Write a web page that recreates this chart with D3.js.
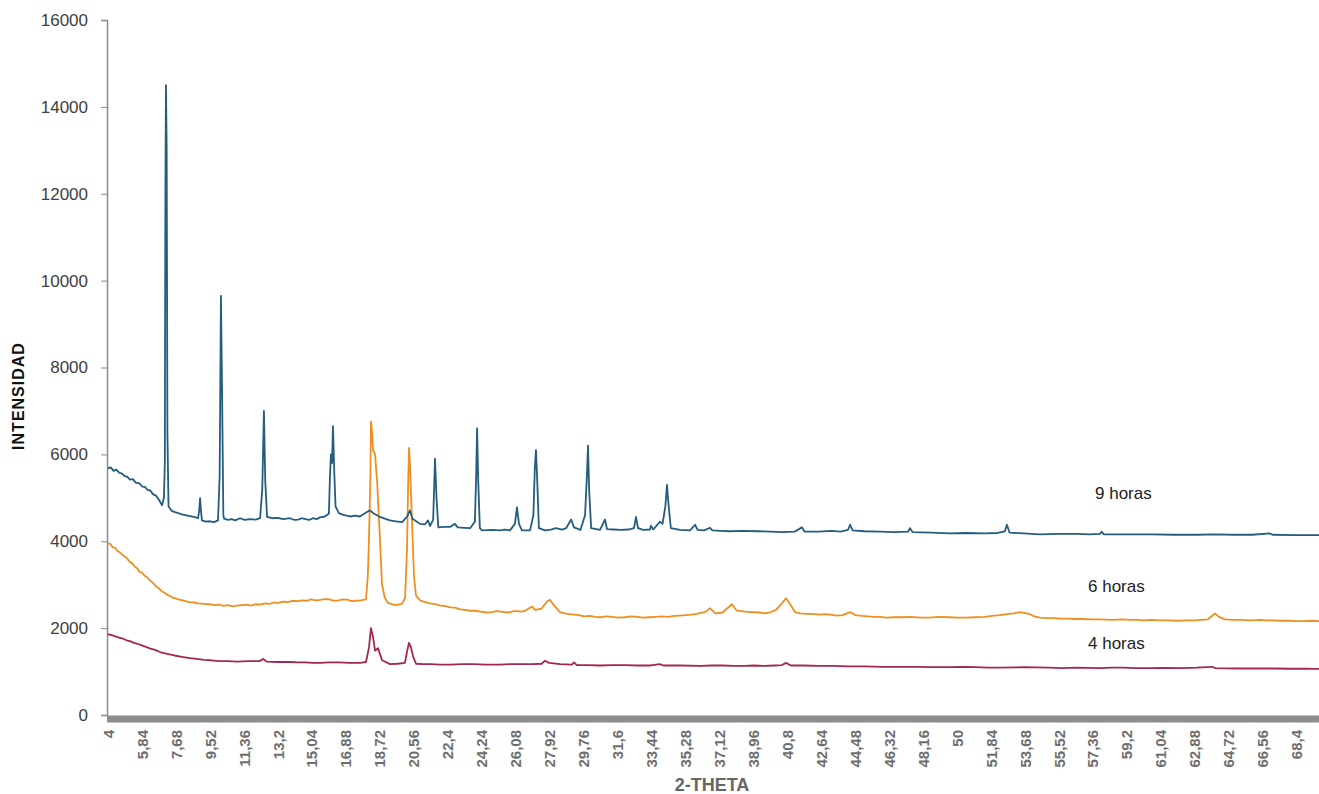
<!DOCTYPE html>
<html>
<head>
<meta charset="utf-8">
<script src="https://cdn.jsdelivr.net/npm/d3@7"></script>
<style>
  html, body { margin: 0; padding: 0; background: #fff; }
  svg { display: block; font-family: "Liberation Sans", Arial, sans-serif; }
</style>
</head>
<body>
<div id="chart"></div>
<script>
// 2-theta tick labels on the category axis
const xTickLabels = ["4","5,84","7,68","9,52","11,36","13,2","15,04","16,88","18,72","20,56",
  "22,4","24,24","26,08","27,92","29,76","31,6","33,44","35,28","37,12","38,96","40,8","42,64",
  "44,48","46,32","48,16","50","51,84","53,68","55,52","57,36","59,2","61,04","62,88","64,72",
  "66,56","68,4"];
const yTicks = [0, 2000, 4000, 6000, 8000, 10000, 12000, 14000, 16000];

// series: [2-theta, intensidad]
const horas9 = [[4.00,5680],[4.15,5700],[4.3,5620],[4.45,5650],[4.6,5580],[4.75,5560],[4.9,5500],[5.05,5480],[5.19,5420],[5.35,5430],[5.5,5350],
  [5.7,5330],[5.85,5260],[6.0,5250],[6.15,5180],[6.28,5170],[6.45,5080],[6.6,5050],[6.75,4960],[6.93,4830],
  [7.03,5000],[7.08,5800],[7.11,12000],[7.14,14500],[7.18,13000],[7.22,6500],[7.28,4800],[7.45,4700],[7.63,4670],[7.8,4650],[8.0,4620],[8.2,4600],[8.44,4580],[8.65,4560],[8.88,4530],
  [8.94,4700],[8.99,4990],[9.04,4700],[9.09,4480],[9.3,4450],[9.53,4460],[9.75,4440],[9.96,4480],[10.05,5500],[10.12,9650],[10.18,7500],[10.25,4600],[10.29,4520],
  [10.5,4490],[10.7,4510],[10.9,4480],[11.15,4530],[11.4,4490],[11.7,4510],[12.0,4500],[12.24,4530],[12.36,5200],[12.45,7000],[12.52,5400],[12.62,4560],[12.9,4530],[13.2,4540],[13.5,4510],[13.86,4530],[14.1,4490],[14.3,4500],[14.5,4530],[14.7,4510],
  [14.9,4490],[15.1,4530],[15.3,4510],[15.49,4550],[15.75,4570],[15.97,4640],[16.02,5400],[16.08,6000],[16.14,5800],[16.19,6650],[16.26,5600],[16.33,4800],[16.52,4640],[16.8,4600],[17.11,4570],
  [17.4,4590],[17.65,4570],[18.05,4680],[18.2,4710],[18.4,4640],[18.74,4560],[19.0,4520],[19.28,4480],[19.6,4460],[19.93,4440],[20.2,4560],[20.36,4710],
  [20.5,4520],[20.91,4400],[21.18,4390],[21.34,4480],[21.45,4350],[21.62,4500],[21.72,5900],[21.8,5000],[21.9,4320],[22.2,4330],[22.53,4330],[22.8,4400],
  [22.95,4320],[23.3,4310],[23.62,4300],[23.88,4450],[23.95,5500],[24.0,6600],[24.06,5400],[24.15,4300],[24.27,4250],[24.8,4260],[25.24,4250],[25.5,4270],[25.78,4250],
  [26.05,4400],[26.16,4780],[26.27,4400],[26.43,4250],[26.87,4250],[27.05,4600],[27.13,5700],[27.19,6100],[27.25,5500],[27.35,4300],[27.68,4250],[28.0,4270],
  [28.28,4300],[28.6,4270],[28.82,4300],[29.1,4500],[29.25,4320],[29.6,4260],[29.85,4600],[29.95,5500],[30.01,6200],[30.07,5200],[30.18,4300],[30.66,4260],
  [30.93,4500],[31.04,4280],[31.4,4270],[31.8,4260],[32.2,4270],[32.5,4300],[32.61,4560],[32.72,4300],[33.0,4260],[33.37,4270],[33.42,4360],[33.55,4270],
  [33.91,4450],[34.05,4400],[34.2,4800],[34.29,5300],[34.36,4900],[34.5,4300],[35.0,4260],[35.54,4250],[35.81,4380],[35.95,4260],[36.3,4250],[36.62,4310],
  [36.75,4250],[37.2,4240],[37.7,4230],[38.4,4240],[39.2,4230],[39.9,4220],[40.52,4210],[41.2,4220],[41.6,4320],[41.75,4220],[42.5,4220],[43.2,4240],
  [43.7,4220],[44.1,4260],[44.21,4380],[44.35,4250],[45.0,4230],[45.8,4220],[46.6,4210],[47.35,4220],[47.46,4300],[47.6,4210],[48.6,4200],[49.6,4180],
  [50.5,4190],[51.5,4180],[52.2,4190],[52.6,4230],[52.71,4380],[52.85,4200],[53.6,4180],[54.5,4160],[55.5,4170],[56.5,4170],[57.2,4160],[57.75,4170],
  [57.85,4220],[57.95,4160],[59.0,4160],[60.5,4160],[61.8,4150],[63.0,4150],[64.0,4160],[65.0,4150],[66.0,4150],[66.96,4180],[67.1,4150],[68.3,4140],
  [69.62,4140],[70,4140]];

const horas6 = [[4.00,3950],[4.12,3940],[4.25,3860],[4.38,3850],[4.5,3780],[4.65,3740],[4.85,3660],[5.0,3620],[5.19,3520],[5.32,3490],[5.45,3420],
  [5.58,3380],[5.7,3300],[5.85,3270],[6.0,3200],[6.15,3160],[6.28,3100],[6.45,3040],[6.6,2960],[6.75,2920],[6.9,2850],[7.05,2820],[7.2,2770],
  [7.35,2740],[7.5,2700],[7.7,2680],[7.9,2650],[8.15,2630],[8.4,2600],[8.65,2590],[8.9,2570],[9.2,2560],[9.5,2550],[9.75,2530],[10.0,2540],[10.25,2510],[10.5,2530],[10.75,2500],[11.0,2520],[11.25,2530],[11.5,2540],[11.75,2520],[12.0,2550],[12.25,2540],[12.5,2570],[12.75,2560],[13.0,2590],[13.25,2580],[13.5,2610],
  [13.75,2600],[14.0,2630],[14.25,2620],[14.5,2640],[14.75,2630],[15.0,2660],[15.25,2640],[15.5,2650],[15.75,2670],[16.0,2660],[16.25,2630],[16.5,2640],[16.75,2660],[17.0,2650],[17.2,2620],[17.4,2630],[17.7,2640],[17.98,2660],[18.08,3200],[18.14,4020],[18.22,5500],
  [18.25,6760],[18.31,6500],[18.36,6100],[18.42,6050],[18.47,6000],[18.58,5400],[18.74,4020],[18.85,3000],[19.0,2700],[19.17,2580],[19.55,2530],
  [19.93,2560],[20.1,2700],[20.2,3800],[20.26,5200],[20.31,6150],[20.36,5800],[20.47,4500],[20.58,3200],[20.69,2750],[20.91,2640],[21.2,2600],[21.45,2570],
  [21.75,2550],[22.0,2520],[22.25,2510],[22.53,2480],[22.8,2470],[23.1,2430],[23.35,2420],[23.62,2400],[23.9,2400],[24.2,2380],[24.5,2360],[24.8,2370],[25.05,2390],[25.3,2380],[25.55,2360],[25.8,2370],[26.0,2390],[26.2,2390],[26.4,2380],[26.6,2400],[26.97,2500],[27.15,2420],
  [27.5,2450],[27.8,2620],[27.95,2650],[28.1,2560],[28.49,2370],[28.75,2340],[29.0,2320],[29.25,2310],[29.5,2300],[29.8,2270],[30.1,2280],[30.4,2260],[30.66,2250],[31.0,2270],[31.3,2260],[31.65,2240],[32.0,2250],[32.35,2270],[32.7,2260],[33.0,2240],
  [33.37,2250],[33.7,2260],[34.0,2270],[34.35,2260],[34.7,2280],[35.0,2290],[35.3,2300],[35.6,2310],[35.9,2330],[36.15,2350],[36.4,2380],[36.62,2460],[36.9,2340],[37.3,2360],[37.81,2550],[38.05,2410],[38.3,2390],[38.52,2380],
  [38.9,2370],[39.3,2360],[39.6,2340],[39.87,2360],[40.2,2420],[40.5,2560],[40.74,2690],[40.95,2560],[41.23,2370],[41.5,2340],[41.83,2330],[42.0,2330],[42.3,2320],[42.6,2310],[42.85,2320],[43.12,2310],[43.5,2290],[43.8,2300],
  [44.21,2370],[44.5,2300],[44.85,2280],[45.2,2270],[45.5,2260],[45.83,2260],[46.2,2240],[46.6,2250],[47.0,2250],[47.5,2260],[48.0,2240],[48.5,2240],[49.0,2260],[49.62,2250],[50.0,2240],[50.5,2240],[51.0,2250],[51.5,2260],[51.9,2280],[52.33,2300],[52.8,2330],
  [53.1,2340],[53.42,2370],[53.9,2330],[54.2,2270],[54.5,2240],[54.9,2230],[55.2,2230],[55.6,2220],[56.0,2220],[56.4,2210],[56.8,2210],[57.3,2200],[57.75,2200],[58.4,2190],[59.0,2200],[59.4,2190],[59.8,2190],[60.1,2180],[60.46,2190],[61.0,2180],[61.5,2180],[62.0,2170],[62.5,2180],
  [62.9,2180],[63.2,2190],[63.6,2200],[63.82,2280],[63.98,2340],[64.2,2260],[64.53,2200],[65.0,2190],[65.4,2190],[65.9,2180],[66.42,2190],[66.8,2180],[67.2,2180],[67.6,2170],[68.0,2170],[68.4,2160],[68.8,2160],[69.2,2170],[69.62,2160],
  [70,2160]];

const horas4 = [[4.00,1860],[4.2,1840],[4.4,1810],[4.6,1780],[4.8,1760],[5.0,1720],[5.19,1700],[5.4,1660],[5.6,1640],[5.8,1610],[6.05,1570],[6.3,1530],[6.55,1500],[6.82,1450],[7.2,1410],[7.6,1370],[8.0,1340],[8.44,1310],[8.8,1290],[9.2,1270],[9.6,1260],[10.0,1240],[10.5,1240],[11.0,1230],[11.6,1240],
  [12.2,1240],[12.4,1290],[12.6,1230],[13.2,1220],[13.9,1220],[14.3,1210],[14.7,1210],[15.1,1200],[15.5,1200],[16.0,1210],[16.5,1210],[17.1,1200],[17.65,1200],[17.98,1220],[18.14,1550],[18.25,2000],
  [18.36,1800],[18.47,1480],[18.58,1520],[18.63,1540],[18.74,1400],[18.85,1260],[19.28,1170],[19.7,1180],[20.09,1200],[20.2,1450],[20.31,1660],
  [20.42,1550],[20.53,1350],[20.69,1180],[21.1,1170],[21.5,1170],[22.0,1160],[22.53,1160],[23.2,1170],[23.8,1170],[24.5,1160],[25.24,1160],[25.8,1170],[26.4,1170],[27.0,1170],[27.5,1180],[27.68,1250],[27.9,1200],[28.5,1170],
  [29.14,1160],[29.25,1210],[29.4,1150],[30.0,1150],[30.66,1140],[31.3,1150],[32.0,1150],[32.7,1140],[33.4,1140],[33.9,1170],[34.1,1140],[35.0,1140],[36.1,1130],[36.7,1140],[37.3,1140],[37.9,1130],[38.5,1130],[39.0,1140],[39.6,1130],
  [40.1,1140],[40.52,1150],[40.74,1200],[41.0,1140],[41.7,1140],[42.5,1130],[43.3,1130],[44.1,1120],[45.0,1120],[46,1110],[46.9,1110],[47.8,1110],[48.7,1100],[49.62,1100],[50.3,1110],[51.0,1100],[51.7,1090],[52.33,1090],[53.6,1100],[55,1090],[55.7,1080],[56.4,1090],
  [57.75,1080],[58.4,1090],[59.0,1090],[59.7,1080],[60.46,1080],[61.3,1085],[62.2,1080],[63.0,1090],[63.82,1110],[64.0,1080],[64.6,1075],[65.2,1070],[65.8,1075],[66.42,1070],[67.2,1070],[68.0,1065],[68.8,1065],[69.62,1060],[70,1060]];

const seriesNames = ["9 horas", "6 horas", "4 horas"];
const seriesData = [horas9, horas6, horas4];
const seriesColors = ["#245d7e", "#ef8f1f", "#a3284f"];

const W = 1319, H = 794;
const svg = d3.select("#chart").append("svg").attr("width", W).attr("height", H);

const x = d3.scaleLinear().domain([4, 70]).range([108, 1326]);
const y = d3.scaleLinear().domain([0, 16000]).range([715, 20]);

svg.append("defs").append("clipPath").attr("id", "plot")
  .append("rect").attr("x", 108).attr("y", 0).attr("width", W - 108).attr("height", 716);

// y axis
const yAxis = svg.append("g")
  .attr("transform", "translate(107,0)")
  .call(d3.axisLeft(y).tickValues(yTicks).tickSize(6).tickPadding(13).tickFormat(d3.format("d")));
yAxis.select(".domain").attr("stroke", "#8a8a8a").attr("stroke-width", 1.5);
yAxis.selectAll(".tick line").attr("stroke", "#8a8a8a");
yAxis.selectAll(".tick text").attr("fill", "#404040").style("font-size", "17px");

// x axis
const xTickValues = xTickLabels.map(s => +s.replace(",", "."));
const xAxis = svg.append("g")
  .attr("transform", "translate(0,719)")
  .call(d3.axisBottom(x).tickValues(xTickValues).tickSize(0).tickPadding(0)
    .tickFormat((d, i) => xTickLabels[i]));
xAxis.select(".domain").remove();
xAxis.selectAll(".tick text")
  .attr("transform", "rotate(-90)")
  .attr("text-anchor", "end")
  .attr("x", -11).attr("y", 0).attr("dy", "0.35em")
  .attr("fill", "#6e6e6e")
  .style("font-size", "15px").style("font-weight", "bold");

svg.append("line")
  .attr("x1", 107).attr("x2", W).attr("y1", 719).attr("y2", 719)
  .attr("stroke", "#8c8c8c").attr("stroke-width", 7);

// series lines
const line = d3.line().x(d => x(d[0])).y(d => y(d[1]));
const lines = svg.append("g").attr("clip-path", "url(#plot)");
[2, 1, 0].forEach(i => {
  lines.append("path")
    .datum(seriesData[i])
    .attr("fill", "none")
    .attr("stroke", seriesColors[i])
    .attr("stroke-width", 1.8)
    .attr("stroke-linejoin", "round")
    .attr("d", line);
});

// series labels
const labelPos = [[1095, 499], [1088, 592], [1088, 649]];
seriesNames.forEach((n, i) => {
  svg.append("text").attr("x", labelPos[i][0]).attr("y", labelPos[i][1])
    .attr("fill", "#222").style("font-size", "17px").text(n);
});

// axis titles
svg.append("text")
  .attr("transform", "translate(24,396) rotate(-90)")
  .attr("text-anchor", "middle")
  .attr("fill", "#111").style("font-size", "16px").style("font-weight", "bold")
  .style("letter-spacing", "1px")
  .text("INTENSIDAD");

svg.append("text")
  .attr("x", 712).attr("y", 791)
  .attr("text-anchor", "middle")
  .attr("fill", "#666").style("font-size", "18px").style("font-weight", "bold")
  .text("2-THETA");
</script>
</body>
</html>
